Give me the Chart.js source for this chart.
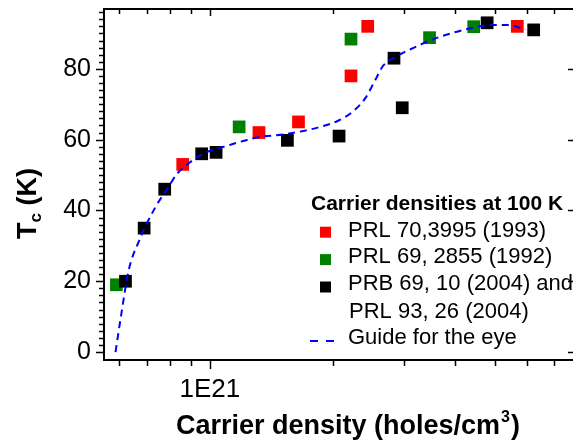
<!DOCTYPE html>
<html>
<head>
<meta charset="utf-8">
<script src="https://cdn.jsdelivr.net/npm/chart.js@4"></script>
<style>
  body { margin: 0; background: #fff; }
  canvas { display: block; }
</style>
</head>
<body>
<canvas id="tcChart" width="582" height="443"></canvas>
<script>
// Carrier densities (holes/cm3) and Tc (K)
const redX = [8.58e20, 1.32e21, 1.65e21, 2.22e21, 2.44e21, 5.68e21];
const redY = [53, 62, 65, 78, 92, 92];

const greenX = [5.9e20, 1.18e21, 2.22e21, 3.46e21, 4.44e21];
const greenY = [19, 63.6, 88.4, 88.8, 91.9];

const blackX = [6.21e20, 6.9e20, 7.75e20, 9.55e20, 1.036e21, 1.55e21, 2.075e21, 2.83e21, 2.965e21, 4.79e21, 6.23e21];
const blackY = [20, 35, 46, 56, 56.4, 59.8, 61, 83, 69, 93, 91];

const guideX = [5.87e20, 6.07e20, 6.32e20, 6.71e20, 7.36e20, 7.92e20, 8.25e20, 8.94e20, 9.62e20, 1.105e21,
                1.305e21, 1.541e21, 1.853e21, 2.07e21, 2.23e21, 2.40e21, 2.54e21, 2.66e21, 2.89e21, 3.17e21,
                3.54e21, 3.95e21, 4.42e21, 4.93e21, 5.41e21, 5.94e21];
const guideY = [0, 11, 23, 31.5, 41, 46.6, 49.9, 53.6, 56, 58.3,
                60.6, 61.6, 63.5, 65.4, 67.7, 71.5, 76.6, 80.8, 83.7, 86.0,
                88.4, 90.2, 91.6, 92.4, 92.4, 91.0];

const seriesLabels = ['PRL 70,3995 (1993)', 'PRL 69, 2855 (1992)', 'PRB 69, 10 (2004) and', 'PRL 93, 26 (2004)', 'Guide for the eye'];
const legendTitle = 'Carrier densities at 100 K';

const xTickValues = [6e20, 7e20, 8e20, 9e20, 1e21, 2e21, 3e21, 4e21, 5e21, 6e21, 7e21];
const xMajorTick = 1e21;
const yMajorTicks = [0, 20, 40, 60, 80];

const FONT = '"Liberation Sans", Arial, sans-serif';

function toPoints(xs, ys) {
    return xs.map((x, i) => ({ x: x, y: ys[i] }));
}

// axis frame, minor ticks, titles and legend
const decorPlugin = {
    id: 'decor',
    afterDraw(chart) {
        const ctx = chart.ctx;
        const a = chart.chartArea;
        const xs = chart.scales.x;
        const ys = chart.scales.y;
        ctx.save();
        ctx.strokeStyle = '#000';
        ctx.lineWidth = 2;
        ctx.beginPath();
        ctx.moveTo(a.left, a.top);
        ctx.lineTo(a.right, a.top);
        ctx.moveTo(a.left, a.top - 1);
        ctx.lineTo(a.left, a.bottom + 1);
        ctx.moveTo(a.left - 1, a.bottom);
        ctx.lineTo(a.right, a.bottom);
        ctx.stroke();

        ctx.lineWidth = 1.5;
        ctx.beginPath();
        for (let v = 0; v <= 96; v += 2) {
            const y = Math.round(ys.getPixelForValue(v)) + 0.5;
            const major = v % 20 === 0;
            ctx.moveTo(a.left, y);
            ctx.lineTo(a.left - (major ? 8 : 5), y);
        }
        yMajorTicks.forEach(v => {
            const y = Math.round(ys.getPixelForValue(v)) + 0.5;
            ctx.moveTo(a.right, y);
            ctx.lineTo(a.right - 5, y);
        });
        xTickValues.forEach(v => {
            const x = Math.round(xs.getPixelForValue(v)) + 0.5;
            const major = v === xMajorTick;
            ctx.moveTo(x, a.bottom);
            ctx.lineTo(x, a.bottom + (major ? 9 : 6));
            ctx.moveTo(x, a.top);
            ctx.lineTo(x, a.top + (major ? 7 : 5));
        });
        ctx.stroke();

        // x title with superscript
        ctx.fillStyle = '#000';
        ctx.textBaseline = 'alphabetic';
        const big = 'bold 27px ' + FONT;
        const sup = 'bold 16px ' + FONT;
        const p1 = 'Carrier density (holes/cm', p2 = '3', p3 = ')';
        ctx.font = big;
        const w1 = ctx.measureText(p1).width, w3 = ctx.measureText(p3).width;
        ctx.font = sup;
        const w2 = ctx.measureText(p2).width;
        let tx = 347 - (w1 + w2 + w3) / 2;
        const tb = 434;
        ctx.font = big;
        ctx.fillText(p1, tx, tb);
        ctx.font = sup;
        ctx.fillText(p2, tx + w1 + 1, tb - 12);
        ctx.font = big;
        ctx.fillText(p3, tx + w1 + w2 + 2, tb);

        // y title: T with subscript c
        ctx.save();
        ctx.translate(36, 203.5);
        ctx.rotate(-Math.PI / 2);
        const sub = 'bold 17px ' + FONT;
        ctx.font = big;
        const tW = ctx.measureText('T').width, kW = ctx.measureText(' (K)').width;
        ctx.font = sub;
        const cW = ctx.measureText('c').width;
        let ty = -(tW + cW + kW) / 2;
        ctx.font = big;
        ctx.fillText('T', ty, 0);
        ctx.font = sub;
        ctx.fillText('c', ty + tW, 5);
        ctx.font = big;
        ctx.fillText(' (K)', ty + tW + cW, 0);
        ctx.restore();

        // legend
        const ds = chart.data.datasets;
        ctx.font = 'bold 21px ' + FONT;
        ctx.fillText(legendTitle, 311, 210);
        ctx.font = '22px ' + FONT;
        const rows = [236.7, 263.3, 290, 318.3, 344];
        const boxes = [{ i: 3, y: 232.2 }, { i: 2, y: 259.6 }, { i: 1, y: 287 }];
        boxes.forEach(b => {
            ctx.fillStyle = ds[b.i].backgroundColor;
            ctx.fillRect(320, b.y - 5.5, 11, 11);
        });
        ctx.fillStyle = '#000';
        ctx.fillText(seriesLabels[0], 348, rows[0]);
        ctx.fillText(seriesLabels[1], 348, rows[1]);
        ctx.fillText(seriesLabels[2], 348, rows[2]);
        ctx.fillText(seriesLabels[3], 349, rows[3]);
        ctx.fillText(seriesLabels[4], 348, rows[4]);
        ctx.strokeStyle = ds[0].borderColor;
        ctx.lineWidth = 2;
        ctx.setLineDash([8, 8]);
        ctx.beginPath();
        ctx.moveTo(310, 341);
        ctx.lineTo(334, 341);
        ctx.stroke();
        ctx.restore();
    }
};

const ctx = document.getElementById('tcChart').getContext('2d');

new Chart(ctx, {
    type: 'scatter',
    data: {
        datasets: [
            {
                label: seriesLabels[4],
                type: 'line',
                data: toPoints(guideX, guideY),
                borderColor: '#0000ff',
                borderWidth: 2,
                borderDash: [7, 5],
                pointRadius: 0,
                cubicInterpolationMode: 'monotone',
                fill: false,
                order: 0
            },
            {
                label: seriesLabels[2] + ' ' + seriesLabels[3],
                data: toPoints(blackX, blackY),
                backgroundColor: '#000000',
                borderWidth: 0,
                pointStyle: 'rect',
                pointRadius: 9,
                order: 1
            },
            {
                label: seriesLabels[1],
                data: toPoints(greenX, greenY),
                backgroundColor: '#008000',
                borderWidth: 0,
                pointStyle: 'rect',
                pointRadius: 9,
                order: 2
            },
            {
                label: seriesLabels[0],
                data: toPoints(redX, redY),
                backgroundColor: '#ff0000',
                borderWidth: 0,
                pointStyle: 'rect',
                pointRadius: 9,
                order: 3
            }
        ]
    },
    options: {
        responsive: false,
        animation: false,
        layout: { padding: { top: 8, left: 0, right: 0, bottom: 0 } },
        plugins: {
            legend: { display: false },
            tooltip: { enabled: false }
        },
        scales: {
            x: {
                type: 'logarithmic',
                min: 5.5e20,
                max: 7.78e21,
                grid: { display: false },
                border: { display: false },
                ticks: {
                    autoSkip: false,
                    maxRotation: 0,
                    padding: 6,
                    color: '#000',
                    font: { family: FONT, size: 26 },
                    callback: v => (v === xMajorTick ? '1E21' : '')
                },
                afterFit: s => {
                    s.height = 83;
                    s.paddingLeft = 0;
                    s.paddingRight = 0;
                }
            },
            y: {
                min: -2.25,
                max: 96.9,
                grid: { display: false },
                border: { display: false },
                ticks: {
                    stepSize: 20,
                    includeBounds: false,
                    padding: 5,
                    color: '#000',
                    font: { family: FONT, size: 25 },
                    callback: v => (yMajorTicks.includes(v) ? String(v) : '')
                },
                afterFit: s => {
                    s.width = 104;
                    s.paddingTop = 0;
                    s.paddingBottom = 0;
                }
            }
        }
    },
    plugins: [decorPlugin]
});
</script>
</body>
</html>
